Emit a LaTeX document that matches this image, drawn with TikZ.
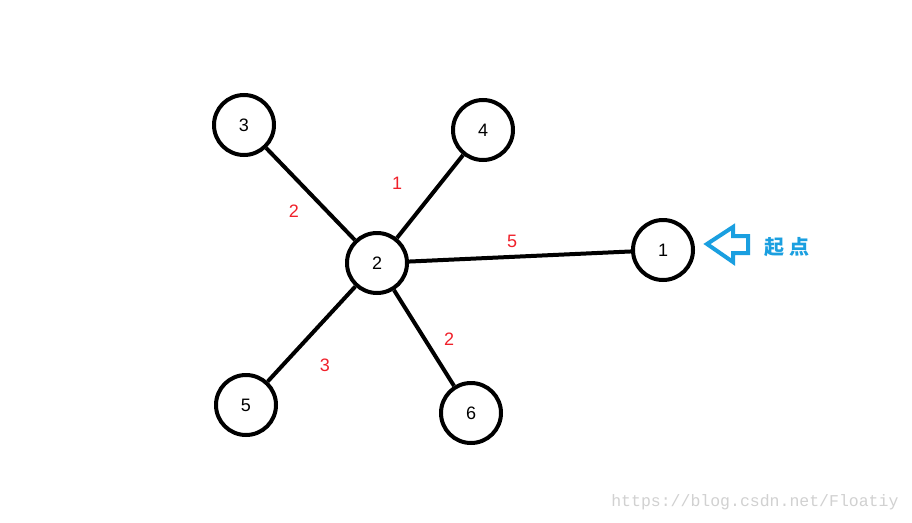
\documentclass[tikz,border=0pt]{standalone}
\usepackage{fontspec}
\setmainfont{Liberation Sans}
\newfontfamily\cjk{Noto Sans CJK SC}
\newfontfamily\urlfont{Liberation Mono}
\usepackage{xcolor}
\usepackage{tikz}
\usetikzlibrary{positioning}

\definecolor{startblue}{HTML}{1A9FE0}
\definecolor{weightred}{HTML}{F0202A}

\tikzset{
    vertex/.style={draw, circle, line width=4pt, minimum size=60pt, inner sep=0pt, font=\fontsize{18}{18}\selectfont},
    edge/.style={line width=4pt},
    weight/.style={text=weightred, font=\fontsize{18}{18}\selectfont}
}

\begin{document}
\begin{tikzpicture}[x=1pt, y=-1pt]
    \useasboundingbox[fill=white] (0,0) rectangle (912,522);

    \node[vertex] (n2) at (377,263) {2};
    \node[vertex] (n1) at (663,250) {1};
    \node[vertex] (n3) at (244,125) {3};
    \node[vertex] (n4) at (483,130) {4};
    \node[vertex] (n5) at (246,405) {5};
    \node[vertex] (n6) at (471,413) {6};

    \draw[edge] (n2) -- (n1);
    \draw[edge] (n2) -- (n3);
    \draw[edge] (n2) -- (n4);
    \draw[edge] (n2) -- (n5);
    \draw[edge] (n2) -- (n6);

    \node[weight] (w1) at (512,241) {5};
    \node[weight] (w3) at (294,211) {2};
    \node[weight] (w4) at (397,183) {1};
    \node[weight] (w5) at (325,365) {3};
    \node[weight] (w6) at (449,339) {2};

    % start marker
    \draw[startblue, line width=4pt, line join=miter]
        (707,244) -- (733,227) -- (733,236) -- (748,236) -- (748,253)
        -- (733,253) -- (733,262) -- cycle;
    \node[text=startblue, font=\cjk\bfseries\fontsize{20}{20}\selectfont] (start) at (787,247) {起\hspace{5pt}点};

    \node[text=black!18, font=\urlfont\fontsize{16.5}{16.5}\selectfont, anchor=east] (url) at (902,502) {https://blog.csdn.net/Floatiy};
\end{tikzpicture}
\end{document}
